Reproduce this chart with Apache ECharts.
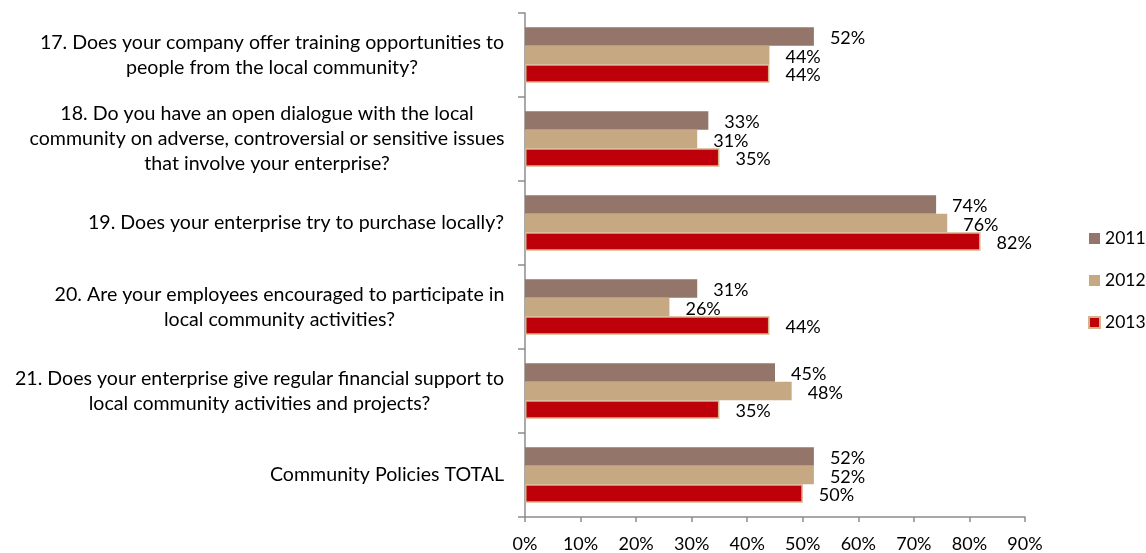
<!DOCTYPE html>
<html>
<head>
<meta charset="utf-8">
<script src="https://cdn.jsdelivr.net/npm/echarts@6/dist/echarts.min.js"></script>
<style>
  html, body { margin: 0; padding: 0; background: #fff; }
  #chart { width: 1146px; height: 553px; }
</style>
</head>
<body>
<div id="chart"></div>
<script>
// Survey questions on community policies, share of "yes" answers per year
const categories = [
  '17. Does your company offer training opportunities to\npeople from the local community?',
  '18. Do you have an open dialogue with the local\ncommunity on adverse, controversial or sensitive issues\nthat involve your enterprise?',
  '19. Does your enterprise try to purchase locally?',
  '20. Are your employees encouraged to participate in\nlocal community activities?',
  '21. Does your enterprise give regular financial support to\nlocal community activities and projects?',
  'Community Policies TOTAL'
];
const years = ['2011', '2012', '2013'];
const values2011 = [52, 33, 74, 31, 45, 52];
const values2012 = [44, 31, 76, 26, 48, 52];
const values2013 = [44, 35, 82, 44, 35, 50];
const xTicks = [0, 10, 20, 30, 40, 50, 60, 70, 80, 90];

const FONT = 'Lato, "Open Sans", sans-serif';
const FS_TEXT = 19.6;   // question labels
const FS_NUM = 18;      // percentages
const FS_LEGEND = 17.5;

// Multi-line category labels: block right-aligned to the axis, lines centred inside the block
const ctx = document.createElement('canvas').getContext('2d');
ctx.font = FS_TEXT + 'px Lato';
const rich = {};
categories.forEach((c, i) => {
  const w = Math.max(...c.split('\n').map(l => ctx.measureText(l).width));
  rich['c' + i] = { width: Math.ceil(w) + 1, align: 'center', fontFamily: FONT, fontSize: FS_TEXT, color: '#000', lineHeight: 25 };
});

const chart = echarts.init(document.getElementById('chart'), null, { renderer: 'canvas' });

const labelCfg = {
  show: true,
  position: 'right',
  distance: 16,
  formatter: p => p.value + '%',
  fontFamily: FONT,
  fontSize: FS_NUM,
  color: '#000',
  offset: [0, 2]
};

function barSeries(name, data, color, border) {
  return {
    name: name,
    type: 'bar',
    data: data,
    barGap: '0%',
    barCategoryGap: '34%',
    itemStyle: border ? { color: color, borderColor: border, borderWidth: 1.5 } : { color: color },
    label: labelCfg,
    emphasis: { disabled: true }
  };
}

chart.setOption({
  animation: false,
  grid: { left: 525, right: 121, top: 13, bottom: 33, containLabel: false },
  legend: {
    orient: 'vertical',
    left: 1083,
    top: 223,
    itemWidth: 11,
    itemHeight: 11,
    itemGap: 21,
    icon: 'rect',
    textStyle: { fontFamily: FONT, fontSize: FS_LEGEND, color: '#000', lineHeight: 21 },
    data: years
  },
  xAxis: {
    type: 'value',
    min: 0,
    max: 90,
    interval: 10,
    splitLine: { show: false },
    axisLine: { show: true, lineStyle: { color: '#8c8c8c', width: 1.5 } },
    axisTick: { show: true, length: 5, lineStyle: { color: '#8c8c8c', width: 1.5 } },
    axisLabel: {
      margin: 18,
      fontFamily: FONT,
      fontSize: FS_NUM,
      color: '#000',
      formatter: v => xTicks.includes(v) ? v + '%' : ''
    }
  },
  yAxis: {
    type: 'category',
    inverse: true,
    data: categories,
    axisLine: { show: true, lineStyle: { color: '#8c8c8c', width: 1.5 } },
    axisTick: { show: true, length: 7, lineStyle: { color: '#8c8c8c', width: 1.5 } },
    axisLabel: {
      margin: 20,
      align: 'right',
      formatter: (v, i) => v.split('\n').map(l => '{c' + i + '|' + l + '}').join('\n'),
      rich: rich
    }
  },
  series: [
    barSeries('2011', values2011, '#937569'),
    barSeries('2012', values2012, '#C6A982'),
    barSeries('2013', values2013, '#BE000B', '#D2B48E')
  ]
});
</script>
</body>
</html>
